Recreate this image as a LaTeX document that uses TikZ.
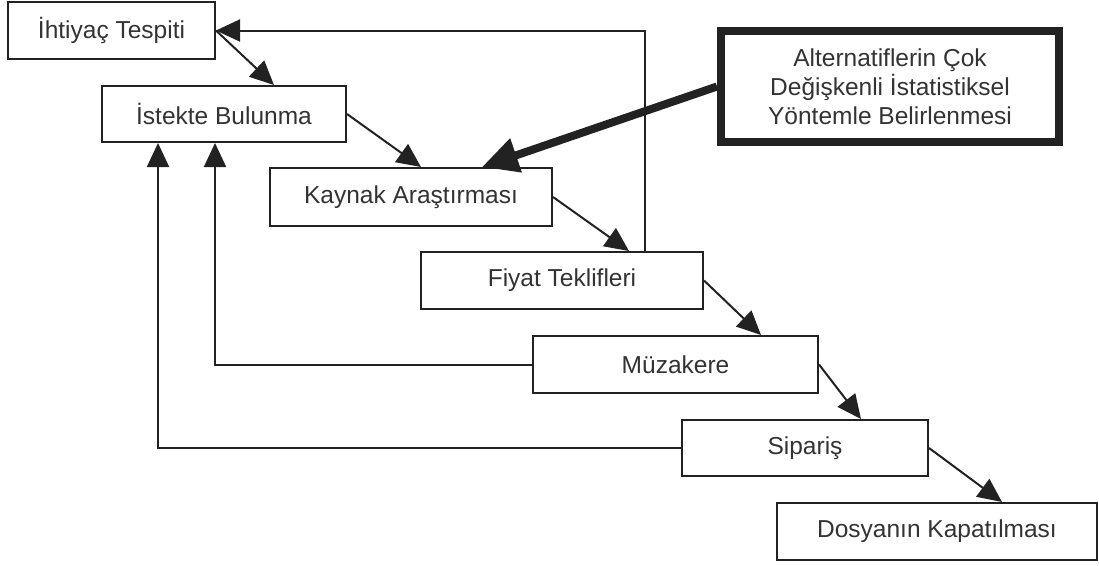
\documentclass[tikz,border=0pt]{standalone}
\usepackage{fontspec}
\setmainfont{Liberation Sans}
\usetikzlibrary{arrows.meta}
\definecolor{ink}{HTML}{222222}
\definecolor{txt}{HTML}{333333}
\begin{document}
\begin{tikzpicture}[x=1pt,y=-1pt,
  stepbox/.style={draw=ink,line width=2pt,fill=white,inner sep=0pt,
    text=txt,font=\fontsize{24.5}{29}\selectfont,minimum height=57pt},
  flow/.style={draw=ink,line width=2pt,-{Triangle[length=24pt,width=22pt]}},
  heavy/.style={draw=ink,line width=8pt,-{Triangle[length=36pt,width=34pt]}}]
\useasboundingbox (0,0) rectangle (1099,565);

% process steps
\node[stepbox,minimum width=207pt] (b1) at (111.5,30.5) {İhtiyaç Tespiti};
\node[stepbox,minimum width=244pt,minimum height=56pt] (b2) at (224,114) {İstekte Bulunma};
\node[stepbox,minimum width=282pt,minimum height=58pt] (b3) at (411,197) {Kaynak Araştırması};
\node[stepbox,minimum width=282pt] (b4) at (562,280.5) {Fiyat Teklifleri};
\node[stepbox,minimum width=285pt] (b5) at (675.5,364.5) {Müzakere};
\node[stepbox,minimum width=246pt,minimum height=56pt] (b6) at (805,448) {Sipariş};
\node[stepbox,minimum width=320pt] (b7) at (937,531.5) {Dosyanın Kapatılması};

% statistical method box
\node[draw=ink,line width=8pt,inner sep=0pt,minimum width=338pt,minimum height=111pt,
  text=txt,align=center,font=\fontsize{24.5}{29}\selectfont] (alt) at (890,86.5)
  {Alternatiflerin Çok\\Değişkenli İstatistiksel\\Yöntemle Belirlenmesi};

% forward flow
\draw[flow] (b1.east) -- ([xshift=-73pt]b2.north east);
\draw[flow] (b2.east) -- ([xshift=152pt]b3.north west);
\draw[flow] (b3.east) -- ([xshift=209pt]b4.north west);
\draw[flow] (b4.east) -- ([xshift=229pt]b5.north west);
\draw[flow] (b5.east) -- ([xshift=180pt]b6.north west);
\draw[flow] (b6.east) -- ([xshift=226pt]b7.north west);

% input from the method box
\draw[heavy] (alt.west) -- ([xshift=213pt]b3.north west);

% feedback loops
\draw[flow] ([xshift=225pt]b4.north west) |- (b1.east);
\draw[flow] (b5.west) -| ([xshift=114pt]b2.south west);
\draw[flow] (b6.west) -| ([xshift=57pt]b2.south west);
\end{tikzpicture}
\end{document}
